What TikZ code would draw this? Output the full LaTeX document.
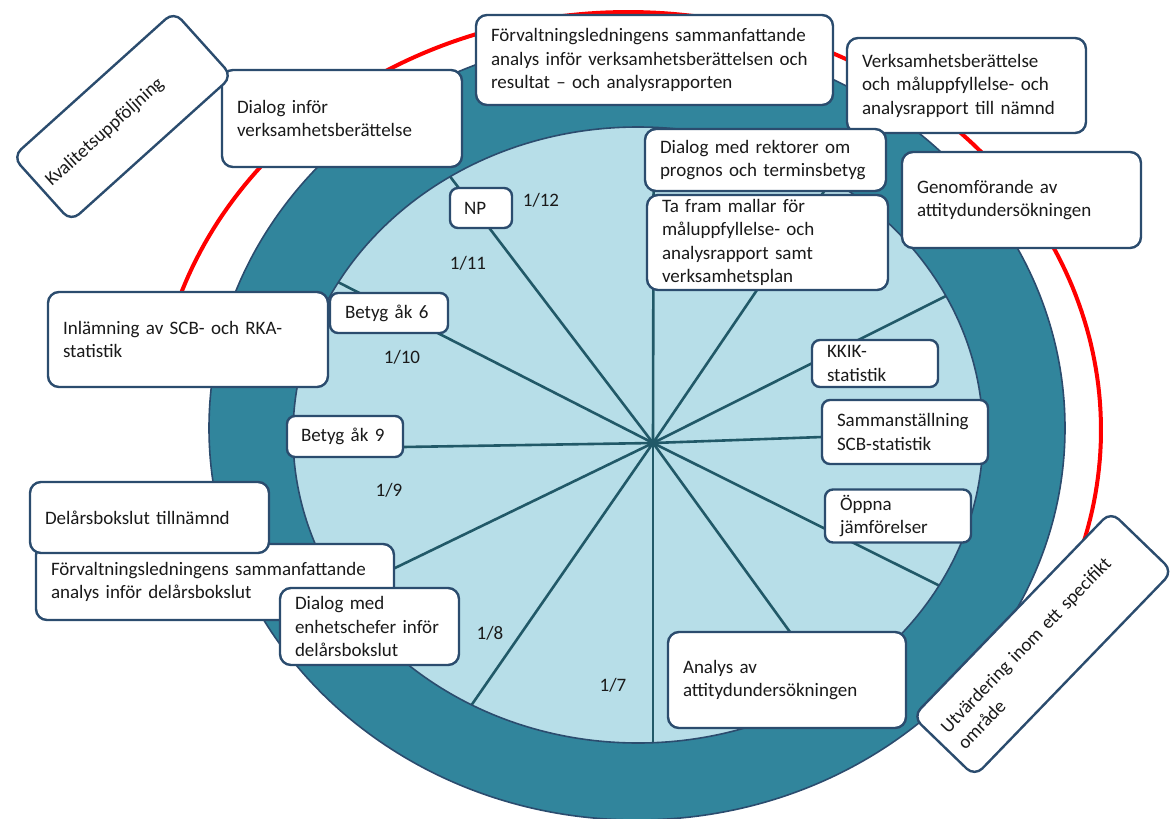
\documentclass[tikz,border=0pt]{standalone}
\usepackage{fontspec}
\setmainfont{Carlito}
\usetikzlibrary{calc}
\definecolor{ring}{HTML}{31859C}
\definecolor{inner}{HTML}{B7DEE8}
\definecolor{edge}{HTML}{2B4C6E}
\definecolor{spoke}{HTML}{215968}
\definecolor{txt}{HTML}{1A1A1A}
\tikzset{
  box/.style={draw=edge, line width=2.4pt, fill=white, rounded corners=11pt,
    inner xsep=15pt, inner ysep=0pt, align=left, text=txt,
    font=\fontsize{19}{23.5}\selectfont},
  bx/.style n args={3}{box, minimum width=#1pt, minimum height=#2pt, text width=#3pt},
  sbx/.style n args={3}{bx={#1}{#2}{#3}, rounded corners=8pt},
  lbl/.style={text=txt, font=\fontsize{19}{23.5}\selectfont, inner sep=0pt},
  spk/.style={draw=spoke, line width=2.6pt},
  rim/.style={draw=edge, line width=1.6pt}
}
\begin{document}
\begin{tikzpicture}[x=1pt,y=-1pt]
\useasboundingbox (0,0) rectangle (1175,819);
% red arc
\draw[red, line width=4pt] plot[domain=195:378, samples=160] ({628+473*cos(\x)},{430+418*sin(\x)});
% ring and wheel
\draw[rim, fill=ring] (637,428) ellipse [x radius=428, y radius=392];
\fill[inner] (638,435) ellipse [x radius=345, y radius=308];
\coordinate (hub) at (653,443);
\coordinate (s1) at (654,-16);
\coordinate (s2) at (965,-16);
\coordinate (s3) at (1526,5);
\coordinate (s4) at (1160,425);
\coordinate (s5) at (1508,869);
\coordinate (s6) at (1064,1010);
\coordinate (s7) at (653,1043);
\coordinate (s8) at (119,1214);
\coordinate (s9) at (-121,818);
\coordinate (s10) at (-97,455);
\coordinate (s11) at (-316,-52);
\coordinate (s12) at (59,-337);
\begin{scope}
\clip (638,435) ellipse [x radius=345, y radius=308];
\foreach \s in {s1,s2,s3,s4,s5,s6,s7,s8,s9,s10,s11,s12}
  \draw[spk] (hub) -- (\s);
\end{scope}
\draw[rim] (638,435) ellipse [x radius=345, y radius=308];
% month labels
\node[lbl] (l12) at (541,200) {1/12};
\node[lbl] (l11) at (468,263) {1/11};
\node[lbl] (l10) at (402,357) {1/10};
\node[lbl] (l9) at (389,490) {1/9};
\node[lbl] (l8) at (490,633) {1/8};
\node[lbl] (l7) at (613,685) {1/7};
% boxes
\node[bx={240}{97}{210}] (dlgvb) at (342,118.5) {\mbox{Dialog inför}\\\mbox{verksamhetsberättelse}};
\node[bx={217}{87}{199}, inner xsep=9pt, rotate=42] (kval) at (122.5,116.5) {\mbox{Kvalitetsuppföljning}};
\node[bx={357}{90}{327}] (forvtop) at (654.5,60) {\mbox{Förvaltningsledningens sammanfattande}\\\mbox{analys inför verksamhetsberättelsen och}\\\mbox{resultat – och analysrapporten}};
\node[bx={239}{95}{209}] (vbnamnd) at (966.5,85.5) {\mbox{Verksamhetsberättelse}\\\mbox{och måluppfyllelse- och}\\\mbox{analysrapport till nämnd}};
\node[bx={241}{62}{211}] (dlgrekt) at (765.5,160) {\mbox{Dialog med rektorer om}\\\mbox{prognos och terminsbetyg}};
\node[bx={241}{95}{211}] (tafram) at (767.5,242.5) {\mbox{Ta fram mallar för}\\\mbox{måluppfyllelse- och}\\\mbox{analysrapport samt}\\\mbox{verksamhetsplan}};
\node[bx={239}{96}{209}] (genomf) at (1021.5,200) {\mbox{Genomförande av}\\\mbox{attitydundersökningen}};
\node[sbx={126}{47}{96}] (kkik) at (875,363.5) {\mbox{KKIK-}\\\mbox{statistik}};
\node[sbx={166}{64}{136}] (samman) at (905,432) {\mbox{Sammanställning}\\\mbox{SCB-statistik}};
\node[sbx={146}{53}{116}] (oppna) at (898,516) {\mbox{Öppna}\\\mbox{jämförelser}};
\node[bx={238}{96}{208}] (analys) at (787,680) {\mbox{Analys av}\\\mbox{attitydundersökningen}};
\node[bx={285}{86}{261}, inner xsep=12pt, rotate=46] (utv) at (1042.75,644) {\mbox{Utvärdering inom ett specifikt}\\\mbox{område}};
\node[bx={280}{95}{250}] (inlamn) at (188,339.5) {\mbox{Inlämning av SCB- och RKA-}\\\mbox{statistik}};
\node[sbx={62}{40}{34}, inner xsep=14pt] (np) at (481,208) {\mbox{NP}};
\node[sbx={118}{40}{88}] (betyg6) at (389,313) {\mbox{Betyg åk 6}};
\node[sbx={116}{41}{88}, inner xsep=14pt] (betyg9) at (345,436.5) {\mbox{Betyg åk 9}};
\node[bx={358}{76}{328}] (forvdel) at (215,582) {\mbox{Förvaltningsledningens sammanfattande}\\\mbox{analys inför delårsbokslut}};
\node[bx={239}{71}{209}] (delars) at (149.5,517.5) {\mbox{Delårsbokslut tillnämnd}};
\node[bx={179}{77}{149}] (dlgenh) at (369.5,626.5) {\mbox{Dialog med}\\\mbox{enhetschefer inför}\\\mbox{delårsbokslut}};
\end{tikzpicture}
\end{document}
